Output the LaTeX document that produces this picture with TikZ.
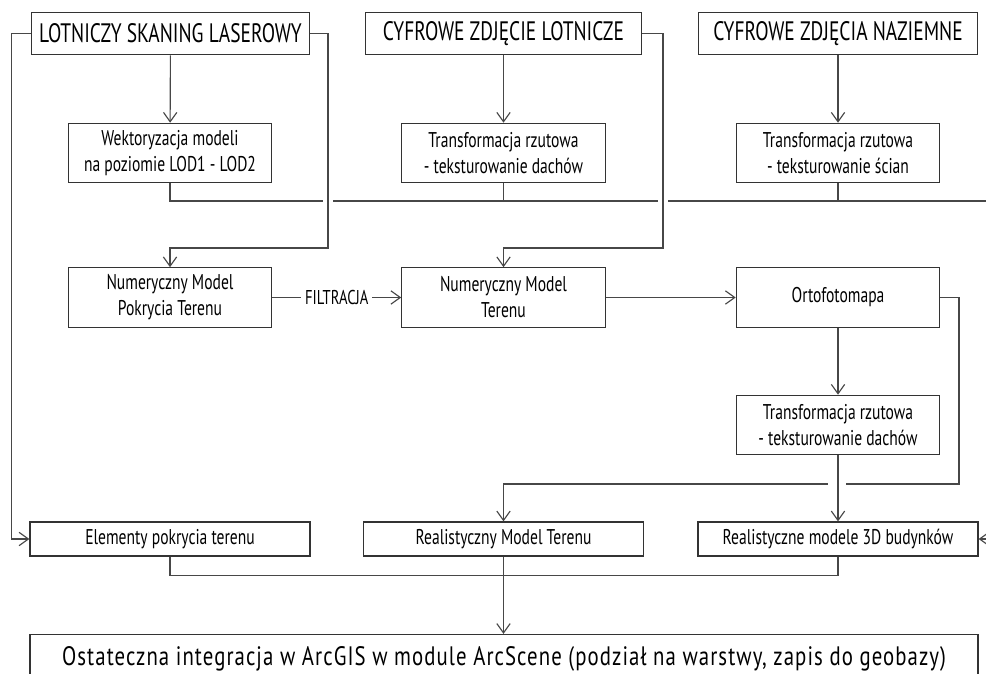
\documentclass[tikz,border=0pt]{standalone}
\usepackage{fontspec}
\setmainfont{PT Sans}[FakeStretch=0.73]
\newfontfamily\finalfont{PT Sans}[FakeStretch=0.78, LetterSpace=4]
\usetikzlibrary{arrows.meta}
\tikzset{
  bx/.style={draw=black!80, line width=0.95pt, inner sep=0pt, align=center, fill=white},
  title/.style={bx, minimum width=209pt, minimum height=32pt, font=\fontsize{20}{22}\selectfont},
  mid/.style={bx, minimum width=152.5pt, minimum height=44.5pt, font=\fontsize{16}{19.5}\selectfont},
  low/.style={bx, minimum width=210pt, minimum height=25.5pt, font=\fontsize{16}{19.5}\selectfont},
  conn/.style={draw=black!72, line width=0.85pt},
  arr/.style={conn, -{Straight Barb[length=7pt,width=10pt,line width=0.85pt]}},
  eraser/.style={draw=white, line width=3pt}
}
\begin{document}
\begin{tikzpicture}[x=0.75pt,y=-0.75pt]
\useasboundingbox (0,0) rectangle (986,674);
\clip (0,0) rectangle (986,674);
\fill[white] (0,0) rectangle (986,674);
% titles
\node[title] (lsl) at (170.5,33.5) {LOTNICZY SKANING LASEROWY};
\node[title, minimum width=207pt] (czl) at (503.5,33.5) {CYFROWE ZDJĘCIE LOTNICZE};
\node[title] (czn) at (838,33.5) {CYFROWE ZDJĘCIA NAZIEMNE};
% second row
\node[mid] (wek) at (170,153) {Wektoryzacja modeli\\na poziomie LOD1 - LOD2};
\node[mid] (tdach) at (503.5,153) {Transformacja rzutowa\\- teksturowanie dachów};
\node[mid] (tscian) at (838,153) {Transformacja rzutowa\\- teksturowanie ścian};
% third row
\node[mid] (nmpt) at (170,297.5) {Numeryczny Model\\Pokrycia Terenu};
\node[mid] (nmt) at (503.5,297.5) {Numeryczny Model\\Terenu};
\node[mid] (orto) at (838,297.5) {Ortofotomapa};
\node[mid] (tdach2) at (838,425) {Transformacja rzutowa\\- teksturowanie dachów};
% fourth row
\node[low] (elem) at (170,539) {Elementy pokrycia terenu};
\node[low] (rmt) at (503.5,539) {Realistyczny Model Terenu};
\node[low] (rm3d) at (838,539) {Realistyczne modele 3D budynków};
% final
\node[bx, minimum width=711pt, minimum height=36pt, font=\finalfont\fontsize{20}{22}\selectfont] (final) at (504,658.5)
  {Ostateczna integracja w ArcGIS w module ArcScene (podział na warstwy, zapis do geobazy)};

\coordinate (loopR) at (1000,201);
\coordinate (a1) at (328,248);
\coordinate (a2) at (663,248);
\coordinate (a3) at (959,484);

% downward arrows from titles
\draw[arr] (lsl) -- (wek);
\draw[arr] (czl) -- (tdach);
\draw[arr] (czn) -- (tscian);

% collecting line to 3D buildings
\draw[arr] (wek.south) |- (loopR) |- (rm3d.east);
\draw[conn] (tdach.south) -- (tdach.south |- loopR);
\draw[conn] (tscian.south) -- (tscian.south |- loopR);
\draw[eraser] (323,201) -- (333,201);
\draw[eraser] (658,201) -- (668,201);

% side routes
\draw[arr] (lsl.east) -| (a1) -| (nmpt.north);
\draw[arr] (czl.east) -| (a2) -| (nmt.north);
\draw[arr] (lsl.west) -- ++(-19,0) |- (elem.west);

% third row
\draw[arr] (nmpt) -- node[fill=white, inner xsep=3pt, inner ysep=1pt, font=\fontsize{15}{16}\selectfont] (filt) {FILTRACJA} (nmt);
\draw[arr] (nmt) -- (orto);
\draw[arr] (orto) -- (tdach2);

\draw[arr] (orto.east) -| (a3) -| (rmt.north);
\draw[eraser] (828,484) -- (846,484);
\draw[arr] (tdach2) -- (rm3d);

% bottom
\draw[conn] (elem.south) -- ++(0,19) -| (rm3d.south);
\draw[arr] (rmt.south) -- (rmt.south |- final.north);
\end{tikzpicture}
\end{document}
